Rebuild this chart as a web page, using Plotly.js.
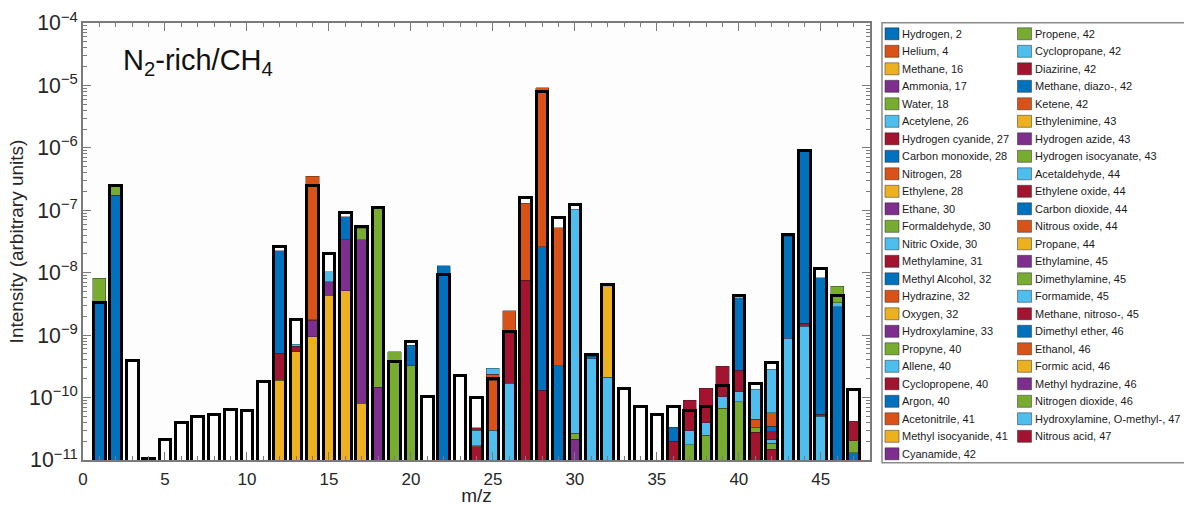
<!DOCTYPE html>
<html>
<head>
<meta charset="utf-8">
<script src="https://cdn.plot.ly/plotly-3.0.1.min.js"></script>
<style>html,body{margin:0;padding:0;background:#fff;} #chart{width:1184px;height:506px;}</style>
</head>
<body>
<div id="chart"></div>
<script>
// ================= DATA =================
// Measured spectrum (black outlined bars), m/z 1..47
const massToCharge = [1,2,3,4,5,6,7,8,9,10,11,12,13,14,15,16,17,18,19,20,21,22,23,24,25,26,27,28,29,30,31,32,33,34,35,36,37,38,39,40,41,42,43,44,45,46,47];
const measuredIntensity = [
  3.3e-9, 2.52e-7, 3.9e-10, 1.05e-11, 2.14e-11, 4.0e-11, 5.06e-11, 5.3e-11, 6.5e-11, 6.3e-11,
  1.79e-10, 2.66e-8, 1.81e-9, 2.52e-7, 2.03e-8, 9.2e-8, 5.57e-8, 1.09e-7, 3.84e-10, 8.03e-10,
  1.03e-10, 9.38e-9, 2.23e-10, 1.0e-10, 2.03e-10, 1.13e-9, 1.6e-7, 7.87e-6, 7.56e-8, 1.24e-7,
  4.97e-10, 6.56e-9, 1.4e-10, 7.3e-11, 5.38e-11, 7.3e-11, 6.2e-11, 7.3e-11, 1.55e-10, 4.26e-9,
  1.65e-10, 3.6e-10, 4.09e-8, 9.17e-7, 1.17e-8, 4.26e-9, 1.35e-10
];

// Species (legend order = stacking order)
const speciesNames = [
  "Hydrogen, 2", "Helium, 4", "Methane, 16", "Ammonia, 17", "Water, 18", "Acetylene, 26",
  "Hydrogen cyanide, 27", "Carbon monoxide, 28", "Nitrogen, 28", "Ethylene, 28", "Ethane, 30",
  "Formaldehyde, 30", "Nitric Oxide, 30", "Methylamine, 31", "Methyl Alcohol, 32", "Hydrazine, 32",
  "Oxygen, 32", "Hydroxylamine, 33", "Propyne, 40", "Allene, 40", "Cyclopropene, 40", "Argon, 40",
  "Acetonitrile, 41", "Methyl isocyanide, 41", "Cyanamide, 42",
  "Propene, 42", "Cyclopropane, 42", "Diazirine, 42", "Methane, diazo-, 42", "Ketene, 42",
  "Ethylenimine, 43", "Hydrogen azide, 43", "Hydrogen isocyanate, 43", "Acetaldehyde, 44",
  "Ethylene oxide, 44", "Carbon dioxide, 44", "Nitrous oxide, 44", "Propane, 44", "Ethylamine, 45",
  "Dimethylamine, 45", "Formamide, 45", "Methane, nitroso-, 45", "Dimethyl ether, 46", "Ethanol, 46",
  "Formic acid, 46", "Methyl hydrazine, 46", "Nitrogen dioxide, 46", "Hydroxylamine, O-methyl-, 47",
  "Nitrous acid, 47"
];

// Modelled contributions per species: [m/z, intensity]
const hydrogen = [[1, 3.3e-9], [2, 1.75e-7]];
const helium = [];
const methane = [[12, 1.9e-10], [13, 5.42e-10], [14, 9.4e-10], [15, 4.37e-9], [16, 5.13e-9], [17, 8.1e-11]];
const ammonia = [[14, 7.6e-10], [15, 2.78e-9], [16, 2.89e-8], [17, 3.39e-8], [18, 1.46e-10]];
const water = [[1, 4.8e-9], [2, 7.0e-8], [17, 1.72e-8], [18, 1.07e-7], [19, 5.42e-10], [20, 3.23e-10]];
const acetylene = [[25, 3.0e-11], [26, 1.69e-10]];
const hydrogenCyanide = [[12, 3.2e-10], [13, 1.28e-10], [14, 5e-11], [26, 9.6e-10], [27, 7.6e-9], [28, 1.32e-10]];
const carbonMonoxide = [[28, 2.59e-8], [29, 3.23e-10]];
const nitrogen = [[14, 3.5e-7], [25, 1.6e-10], [26, 1.32e-9], [27, 1.23e-7], [28, 9.17e-6], [29, 5.21e-8]];
const ethylene = [];
const ethane = [[30, 2.14e-11]];
const formaldehyde = [[30, 5.3e-12]];
const nitricOxide = [[30, 1.03e-7], [31, 4.24e-10], [32, 2.1e-10]];
const methylamine = [];
const methylAlcohol = [[31, 3.8e-11]];
const hydrazine = [];
const oxygen = [[32, 5.73e-9]];
const hydroxylamine = [];
const propyne = [[37, 1.74e-11], [38, 2.51e-11], [39, 6.7e-11], [40, 8.6e-11]];
const allene = [[13, 5e-11], [37, 1.21e-11], [38, 1.44e-11], [39, 3.6e-11], [40, 3.8e-11]];
const cyclopropene = [[24, 1.63e-11], [25, 1.5e-11], [36, 2.01e-11], [37, 6.15e-11], [38, 1.005e-10], [39, 2.17e-10], [40, 1.51e-10], [41, 2.77e-11], [42, 1.48e-11]];
const argon = [[20, 3.7e-10], [36, 1.32e-11], [40, 3.69e-9]];
const acetonitrile = [[24, 7e-13], [25, 3.3e-11]];
const methylIsocyanide = [];
const cyanamide = [];
const propene = [[41, 5.6e-12], [42, 3.7e-12]];
const cyclopropane = [[24, 1.32e-11], [25, 5.5e-11], [42, 2.5e-12]];
const diazirine = [[24, 2.5e-12], [42, 7.4e-12]];
const methaneDiazo = [[42, 6.6e-12]];
const ketene = [[41, 1.15e-11], [42, 2.2e-11]];
const ethylenimine = [];
const hydrogenAzide = [];
const hydrogenIsocyanate = [];
const acetaldehyde = [[15, 3.15e-9], [41, 9.0e-11], [42, 2.25e-10], [43, 8.87e-10], [44, 1.39e-9], [45, 5.06e-11]];
const ethyleneOxide = [[44, 1.5e-10], [45, 3.4e-12]];
const carbonDioxide = [[12, 2.19e-8], [16, 4.45e-8], [22, 1.29e-8], [43, 3.76e-8], [44, 8.92e-7], [45, 8.23e-9], [46, 2.84e-9]];
const nitrousOxide = [];
const propane = [];
const ethylamine = [];
const dimethylamine = [];
const formamide = [[46, 4.6e-10]];
const methaneNitroso = [];
const dimethylEther = [[47, 1.31e-11]];
const ethanol = [];
const formicAcid = [];
const methylHydrazine = [];
const nitrogenDioxide = [[46, 2.8e-9], [47, 7.3e-12]];
const hydroxylamineOMethyl = [];
const nitrousAcid = [[47, 2.16e-11]];

const contributions = [
  hydrogen, helium, methane, ammonia, water, acetylene, hydrogenCyanide, carbonMonoxide, nitrogen,
  ethylene, ethane, formaldehyde, nitricOxide, methylamine, methylAlcohol, hydrazine, oxygen,
  hydroxylamine, propyne, allene, cyclopropene, argon, acetonitrile, methylIsocyanide, cyanamide,
  propene, cyclopropane, diazirine, methaneDiazo, ketene, ethylenimine, hydrogenAzide,
  hydrogenIsocyanate, acetaldehyde, ethyleneOxide, carbonDioxide, nitrousOxide, propane, ethylamine,
  dimethylamine, formamide, methaneNitroso, dimethylEther, ethanol, formicAcid, methylHydrazine,
  nitrogenDioxide, hydroxylamineOMethyl, nitrousAcid
];

const panelLabel = "N<sub>2</sub>-rich/CH<sub>4</sub>";

// ================= STYLE =================
const palette = ['#0072BD', '#D95319', '#EDB120', '#7E2F8E', '#77AC30', '#4DBEEE', '#A2142F'];
const FONT = 'Arial, "Liberation Sans", Helvetica, sans-serif';
const W = 1184, H = 506;
const M = {l: 83, r: 314, t: 23, b: 46};
const plotW = W - M.l - M.r, plotH = H - M.t - M.b;
const px2x = px => (px - M.l) / plotW;
const py2y = py => (H - M.b - py) / plotH;

// ================= TRACES =================
const traces = speciesNames.map((name, i) => ({
  type: 'bar',
  name: name,
  x: contributions[i].map(p => p[0]),
  y: contributions[i].map(p => p[1]),
  width: 0.8,
  marker: {color: palette[i % palette.length], line: {color: 'rgba(35,35,35,0.7)', width: 0.6}},
  showlegend: false,
  xaxis: 'x', yaxis: 'y'
}));

traces.push({
  type: 'bar',
  name: 'Measured',
  x: massToCharge,
  y: measuredIntensity,
  width: 0.71,
  marker: {color: 'rgba(0,0,0,0)', line: {color: '#000000', width: 3}},
  showlegend: false,
  xaxis: 'x2', yaxis: 'y'
});

// ================= MANUAL TWO-COLUMN LEGEND =================
const shapes = [];
const annotations = [];
const rowsPerCol = 25;
speciesNames.forEach((name, i) => {
  const col = i < rowsPerCol ? 0 : 1;
  const row = col ? i - rowsPerCol : i;
  const yc = 33.8 + row * 17.5;
  const sx = col ? 1017.5 : 885;
  shapes.push({
    type: 'rect', xref: 'paper', yref: 'paper',
    x0: px2x(sx), x1: px2x(sx + 14), y0: py2y(yc + 6), y1: py2y(yc - 6),
    fillcolor: palette[i % palette.length],
    line: {color: 'rgba(35,35,35,0.6)', width: 0.8}
  });
  annotations.push({
    xref: 'paper', yref: 'paper', x: px2x(col ? 1032.5 : 900), y: py2y(yc),
    xanchor: 'left', yanchor: 'middle', showarrow: false,
    text: name, font: {family: FONT, size: 11, color: '#1a1a1a'}
  });
});
shapes.push({
  type: 'rect', xref: 'paper', yref: 'paper',
  x0: px2x(882), x1: px2x(1190), y0: py2y(462.7), y1: py2y(22.7),
  line: {color: '#8a8a8a', width: 1.5}, fillcolor: 'rgba(0,0,0,0)'
});

annotations.push({
  xref: 'paper', yref: 'paper', x: px2x(121), y: py2y(62),
  xanchor: 'left', yanchor: 'middle', showarrow: false,
  text: panelLabel, font: {family: FONT, size: 29, color: '#111111'}
});

// ================= LAYOUT =================
const axisColor = '#7a7a7a';
const layout = {
  width: W, height: H,
  margin: M,
  paper_bgcolor: '#ffffff',
  plot_bgcolor: '#fdfdfd',
  barmode: 'stack',
  showlegend: false,
  font: {family: FONT, color: '#262626'},
  xaxis: {
    range: [0, 48], tick0: 0, dtick: 5,
    ticks: 'inside', ticklen: 8, tickwidth: 1, tickcolor: axisColor,
    showline: true, linecolor: axisColor, linewidth: 1.5, mirror: 'ticks',
    showgrid: false, zeroline: false,
    minor: {ticks: 'inside', ticklen: 4, dtick: 1, tickcolor: axisColor, showgrid: false},
    tickfont: {family: FONT, size: 17, color: '#262626'},
    ticklabelstandoff: 3,
    title: {text: 'm/z', font: {family: FONT, size: 19, color: '#262626'}, standoff: 3}
  },
  xaxis2: {range: [0, 48], overlaying: 'x', visible: false},
  yaxis: {
    type: 'log', range: [-11, -4], dtick: 1, exponentformat: 'power',
    ticks: 'inside', ticklen: 8, tickwidth: 1, tickcolor: axisColor,
    showline: true, linecolor: axisColor, linewidth: 1.5, mirror: 'ticks',
    showgrid: false, zeroline: false,
    minor: {ticks: 'inside', ticklen: 4, dtick: 'D1', tickcolor: axisColor, showgrid: false},
    tickfont: {family: FONT, size: 17, color: '#262626'},
    title: {text: 'Intensity (arbitrary units)', font: {family: FONT, size: 19, color: '#262626'}, standoff: 0}
  },
  shapes: shapes,
  annotations: annotations
};

Plotly.newPlot('chart', traces, layout, {displayModeBar: false, responsive: false});
</script>
</body>
</html>
